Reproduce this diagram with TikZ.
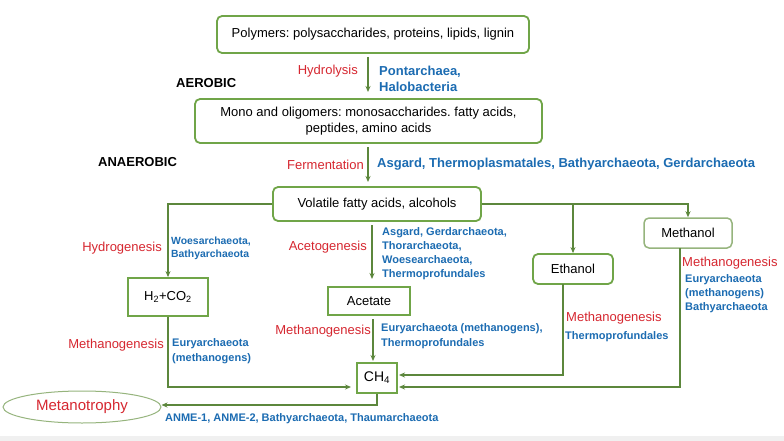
\documentclass[tikz,border=0pt]{standalone}
\usepackage{fontspec}
\setmainfont{Liberation Sans}
\frenchspacing
\usetikzlibrary{arrows.meta,shapes.geometric,calc}
\definecolor{boxgreen}{RGB}{112,165,72}
\definecolor{palegreen}{RGB}{150,180,125}
\definecolor{arrgreen}{RGB}{92,135,60}
\definecolor{labred}{RGB}{214,39,48}
\definecolor{labblue}{RGB}{28,108,178}
\definecolor{stripgray}{RGB}{240,240,240}
\tikzset{
  fsA/.style={font=\fontsize{13}{16}\selectfont},
  box/.style={draw=boxgreen, line width=1.8pt, fill=white, rounded corners=5pt, inner sep=0pt, align=center, fsA},
  sqbox/.style={draw=boxgreen, line width=1.8pt, fill=white, inner sep=0pt, align=center, fsA},
  palebox/.style={box, draw=palegreen, line width=1.5pt},
  arr/.style={draw=arrgreen, line width=1.4pt, -{Stealth[length=6pt,width=5pt]}},
  redlab/.style={text=labred, inner sep=0pt, fsA},
  bluelab/.style={text=labblue, inner sep=0pt, font=\bfseries\fontsize{11}{14}\selectfont, align=left},
  bluebig/.style={text=labblue, inner sep=0pt, font=\bfseries\fontsize{13}{16}\selectfont, align=left},
  phase/.style={inner sep=0pt, font=\bfseries\fontsize{13}{16}\selectfont},
}
\begin{document}
\frenchspacing
\begin{tikzpicture}[x=1pt,y=-1pt]
\useasboundingbox (0,0) rectangle (784,441);
\fill[white] (0,0) rectangle (784,441);
\fill[stripgray] (0,436) rectangle (784,441);

% boxes
\node[box, minimum width=312pt, minimum height=37pt] (poly) at (373,34.5) {Polymers: polysaccharides, proteins, lipids, lignin};
\node[box, minimum width=347pt, minimum height=44pt] (mono) at (368.5,121) {Mono and oligomers: monosaccharides. fatty acids,\\peptides, amino acids};
\node[box, minimum width=208pt, minimum height=34pt] (vfa) at (377,204) {Volatile fatty acids, alcohols};
\node[sqbox, minimum width=80pt, minimum height=38pt] (h2) at (168,297) {H\textsubscript{2}+CO\textsubscript{2}};
\node[sqbox, minimum width=82pt, minimum height=28pt] (acet) at (369,301) {Acetate};
\node[palebox, minimum width=88pt, minimum height=30pt] (meth) at (688,233) {Methanol};
\node[box, minimum width=80pt, minimum height=30pt] (eth) at (573,269) {Ethanol};
\node[sqbox, minimum width=40pt, minimum height=30pt, font=\fontsize{14}{16}\selectfont] (ch4) at (377,378) {CH\textsubscript{4}};
\node[ellipse, draw=palegreen, line width=1pt, minimum width=158pt, minimum height=32pt, inner sep=0pt, text=labred, font=\fontsize{15}{18}\selectfont] (mt) at (82,407) {Metanotrophy};

% connectors
\coordinate (a1) at (368,57);
\coordinate (a2) at (368,92);
\draw[arr] (a1) -- (a2);
\coordinate (b1) at (368,147);
\coordinate (b2) at (368,182);
\draw[arr] (b1) -- (b2);
\draw[arr] (vfa.west) -| (h2.north);
\coordinate (c1) at (372,225);
\coordinate (c2) at (372,279);
\draw[arr] (c1) -- (c2);
\draw[arr] (vfa.east) -- (vfa.east -| meth.north) -- (meth.north);
\draw[arr] (vfa.east -| eth.north) -- (eth.north);
\coordinate (d1) at (168,387);
\coordinate (d2) at (351,387);
\draw[arr] (h2.south) -- (d1) -- (d2);
\coordinate (e1) at (373,319);
\coordinate (e2) at (373,361);
\draw[arr] (e1) -- (e2);
\coordinate (f1) at (563,284);
\coordinate (f2) at (563,375);
\coordinate (f3) at (399,375);
\draw[arr] (f1) -- (f2) -- (f3);
\coordinate (g1) at (680,248);
\coordinate (g2) at (680,387);
\coordinate (g3) at (399,387);
\draw[arr] (g1) -- (g2) -- (g3);
\coordinate (h1) at (377,405);
\draw[arr] (ch4.south) -- (h1) -- (mt.east |- h1);

% phase labels
\node[phase, anchor=west] (aer) at (176,83) {AEROBIC};
\node[phase, anchor=west] (anaer) at (98,162) {ANAEROBIC};

% process labels
\node[redlab, anchor=east] (hyd) at (358,71) {Hydrolysis};
\node[bluebig, anchor=west] (hydo) at (379,79) {Pontarchaea,\\Halobacteria};
\node[redlab, anchor=east] (fer) at (364,165) {Fermentation};
\node[bluebig, anchor=west] (fero) at (377,164) {Asgard, Thermoplasmatales, Bathyarchaeota, Gerdarchaeota};
\node[redlab, anchor=east] (hyg) at (162,248) {Hydrogenesis};
\node[bluelab, anchor=west, font=\bfseries\fontsize{10.4}{13.5}\selectfont] (hygo) at (171,248.5) {Woesarchaeota,\\Bathyarchaeota};
\node[redlab, anchor=east] (acg) at (367,247) {Acetogenesis};
\node[bluelab, anchor=west] (acgo) at (382,254) {Asgard, Gerdarchaeota,\\Thorarchaeota,\\Woesearchaeota,\\Thermoprofundales};
\node[redlab, anchor=west] (mg1) at (682,263) {Methanogenesis};
\node[bluelab, anchor=west] (mg1o) at (685,294) {Euryarchaeota\\(methanogens)\\Bathyarchaeota};
\node[redlab, anchor=west] (mg2) at (566,318) {Methanogenesis};
\node[bluelab, anchor=west] (mg2o) at (565,337) {Thermoprofundales};
\node[redlab, anchor=east] (mg3) at (164,345) {Methanogenesis};
\node[bluelab, anchor=west, font=\bfseries\fontsize{11}{15}\selectfont] (mg3o) at (172,351.5) {Euryarchaeota\\(methanogens)};
\node[redlab, anchor=east] (mg4) at (371,331) {Methanogenesis};
\node[bluelab, anchor=west, font=\bfseries\fontsize{11}{15}\selectfont] (mg4o) at (381,336.5) {Euryarchaeota (methanogens),\\Thermoprofundales};
\node[bluelab, anchor=west] (mto) at (165,419) {ANME-1, ANME-2, Bathyarchaeota, Thaumarchaeota};
\end{tikzpicture}
\end{document}
